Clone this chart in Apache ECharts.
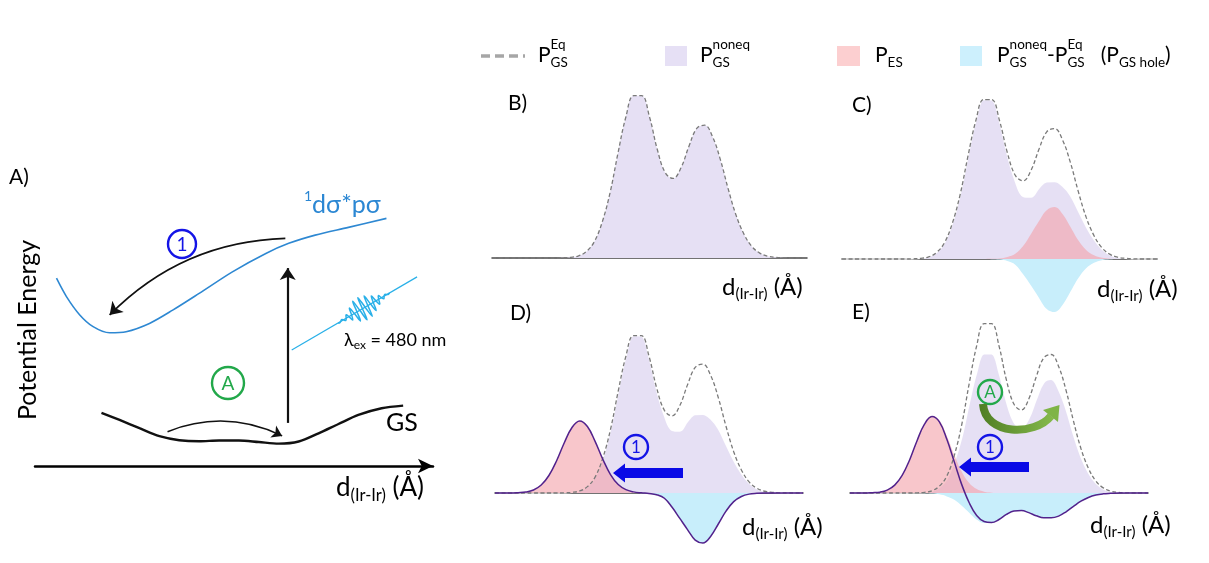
<!DOCTYPE html>
<html><head><meta charset="utf-8">
<script src="https://cdn.jsdelivr.net/npm/echarts@6/dist/echarts.min.js"></script>
<style>html,body{margin:0;padding:0;background:#fff}#c{width:1209px;height:563px}</style>
</head><body><div id="c"></div>
<script>
// ---------- DATA ----------
// shared bond-distance grid for panels B-E (arbitrary units 0..100 along each baseline)
const xs = [0,2.5,5,7.5,10,12.5,15,17.5,20,22.5,25,27.5,30,32.5,35,37.5,40,42.5,45,47.5,50,52.5,55,57.5,60,62.5,65,67.5,70,72.5,75,77.5,80,82.5,85,87.5,90,92.5,95,97.5,100];
// equilibrium ground-state distribution (dashed)
const eqGS   = [0,0,0,0,0,0,0,0,0,0.1,0.4,1.3,4,10,22,40,64,86,99,99,86,66,52,48.5,55,68,79,81,74,60,42,26,14.5,7,3,1.1,0.4,0.1,0,0,0];
// panel B
const noneqB = [0,0,0,0,0,0,0,0,0,0.1,0.4,1.3,4,10,22,40,64,86,99,99,86,66,52,48.5,55,68,79,81,74,60,42,26,14.5,7,3,1.1,0.4,0.1,0,0,0];
// panel C
const noneqC = [0,0,0,0,0,0,0,0,0,0.1,0.4,1.3,4,10,22,40,64,86,99,98.9,85.7,64.8,48.5,39,38.5,44,48,48.1,45.4,39.6,30.1,20.3,12.2,6.3,2.8,1.1,0.4,0.1,0,0,0];
const esC    = [0,0,0,0,0,0,0,0,0,0,0,0,0,0,0,0,0,0,0,0.1,0.3,1.2,3.2,8,15.5,23.4,30.3,32.3,28,20,11.6,5.6,2.3,0.7,0.2,0,0,0,0,0,0];
const holeC  = [0,0,0,0,0,0,0,0,0,0,0,0,0,0,0,0,0,0,0,-0.1,-0.3,-1.2,-3.5,-9.5,-16.5,-24,-31,-32.9,-28.6,-20.4,-11.9,-5.7,-2.3,-0.7,-0.2,0,0,0,0,0,0];
// panel D
const noneqD = [0,0,0,0,0,0,0,0,0,0.1,0.4,1.3,4,10,22,40,64,86,99,98.9,85.7,64.9,48.7,39.5,39,45,49.4,49.6,46.7,40.5,30.6,20.6,12.3,6.3,2.8,1.1,0.4,0.1,0,0,0];
const esD    = [0,0,0,0.2,0.6,1.9,5,11,20.3,31.6,41.2,45.3,41.8,32.5,21.2,11.6,5.3,2.1,0.7,0.2,0,0,0,0,0,0,0,0,0,0,0,0,0,0,0,0,0,0,0,0,0];
const holeD  = [0,0,0,0,0,0,0,0,0,0,0,0,0,0,0,0,0,0,0,-0.1,-0.3,-1.1,-3.3,-9,-16,-23,-29.6,-31.4,-27.3,-19.5,-11.4,-5.4,-2.2,-0.7,-0.2,0,0,0,0,0,0];
const diffD  = [0,0,0,0.2,0.6,1.9,5,11,20.3,31.6,41.2,45.3,41.8,32.5,21.2,11.6,5.3,2.1,0.7,0.1,-0.3,-1.1,-3.3,-9,-16,-23,-29.6,-31.4,-27.3,-19.5,-11.4,-5.4,-2.2,-0.7,-0.2,0,0,0,0,0,0];
// panel E
const noneqE = [0,0,0,0,0,0,0,0,0,0.1,0.3,1,3.2,8,18,32.5,52.5,70.5,81.5,81.5,70.5,53.5,41.5,38.2,43.5,54.7,64.5,66.5,60.5,49,34.2,21.2,11.9,5.8,2.5,0.9,0.4,0.1,0,0,0];
const esE    = [0,0,0,0.2,0.5,1.7,4.6,10.3,19.3,30.6,40.4,45,42.4,33.4,22.2,12.4,5.8,2.3,0.8,0.2,0,0,0,0,0,0,0,0,0,0,0,0,0,0,0,0,0,0,0,0,0];
const holeE  = [0,0,0,0,0,0,0,0,0,0,-0.1,-0.3,-0.8,-2,-4,-7.5,-11.5,-15.5,-17.5,-17.5,-15.5,-12.5,-10.5,-10.3,-11.5,-13.3,-14.5,-14.5,-13.5,-11,-7.8,-4.8,-2.6,-1.2,-0.5,-0.2,0,0,0,0,0];
const diffE  = [0,0,0,0.2,0.5,1.7,4.6,10.3,19.3,30.6,40.3,44.7,41.6,31.4,18.2,4.9,-5.7,-13.2,-16.7,-17.3,-15.5,-12.5,-10.5,-10.3,-11.5,-13.3,-14.5,-14.5,-13.5,-11,-7.8,-4.8,-2.6,-1.2,-0.5,-0.2,0,0,0,0,0];
// panel A potential energy curves
const esPESx = [5.4,7.9,11.25,14.6,18.75,22.9,28.75,34.6,41.25,49.6,58,63.75,70.4,78.75,88.3];
const esPESy = [70.6,63.7,56.8,52.4,50.1,50.5,53.6,58.6,64.9,73,79.9,83.7,86.8,89.7,93.1];
const gsPESx = [16.7,21.25,26.25,31.25,36.25,41.25,46.25,51.25,56.25,61.25,66.25,71.25,76.25,81.25,87.1,92.5];
const gsPESy = [20,17.3,14.2,11.2,9.7,9.3,9.6,9.6,9.0,8.4,9.2,12.3,15.8,19.2,21.7,22.7];
// panel A annotation paths (data coordinates)
const arrowOne   = [[62.9,85.6],[18.75,56.8]];
const arrowA     = [[33.3,12.9],[62.1,11.3]];
const excitation = [[63.5,16.2],[63.5,74.4]];
const photonLine = [[64.5,43.6],[96,71.1]];
const photonWave = [0,.06,0,-.1,0,.15,0,-.25,0,.4,0,-.6,0,.8,0,-.95,0,1,0,-1,0,.95,0,-.85,0,.7,0,-.55,0,.4,0,-.28,0,.18,0,-.1,0,.05,0];

// ---------- STYLE ----------
const FONT = 'Lato, "Noto Sans", "DejaVu Sans", sans-serif';
const C_LAV = '#e6e0f4', C_PINK = 'rgba(243,160,168,0.6)', C_CYAN = '#c8eefb';
const C_DASH = '#7a7a7a', C_DIFF = '#52228c';

const chart = echarts.init(document.getElementById('c'));
const pts = arr => xs.map((x, i) => [x, arr[i]]);

const panels = [
  {left:492, width:315, top:94,  scale:1.64},
  {left:842, width:315, top:98,  scale:1.61},
  {left:495, width:308, top:334, scale:1.59},
  {left:850, width:298, top:322, scale:1.71}
];
const grids = [{left:35, top:200, width:398, height:266}];
const xAxes = [{gridIndex:0, type:'value', min:0, max:100, axisLine:{show:true, symbol:['none','arrow'], symbolSize:[11,15], lineStyle:{color:'#000', width:2.5}}, axisTick:{show:false}, axisLabel:{show:false}, splitLine:{show:false}}];
const yAxes = [{gridIndex:0, type:'value', min:0, max:100, show:false}];
panels.forEach((p, i) => {
  grids.push({left:p.left, width:p.width, top:p.top, height:140*p.scale});
  xAxes.push({gridIndex:i+1, type:'value', min:0, max:100, axisLine:{show:true, onZero:true, lineStyle:{color:'#444', width:1.5}}, axisTick:{show:false}, axisLabel:{show:false}, splitLine:{show:false}});
  yAxes.push({gridIndex:i+1, type:'value', min:-40, max:100, show:false});
});

const series = [];
function area(g, arr, color, z, line) {
  series.push({type:'line', xAxisIndex:g, yAxisIndex:g, data:pts(arr), smooth:0.4, symbol:'none', z:z,
    lineStyle: line || {width:0}, areaStyle:{color:color, opacity:1}});
}
function dashed(g) {
  series.push({type:'line', xAxisIndex:g, yAxisIndex:g, data:pts(eqGS), smooth:0.4, symbol:'none', z:6,
    lineStyle:{color:C_DASH, width:1.3, type:[4,2.5]}});
}
function diff(g, arr) {
  series.push({type:'line', xAxisIndex:g, yAxisIndex:g, data:pts(arr), smooth:0.4, symbol:'none', z:7,
    lineStyle:{color:C_DIFF, width:1.5}});
}
const whiteEdge = {color:'rgba(255,255,255,0.95)', width:1.5};
// B
area(1, noneqB, C_LAV, 2); dashed(1);
// C
area(2, noneqC, C_LAV, 2, whiteEdge); area(2, esC, C_PINK, 3); area(2, holeC, C_CYAN, 3); dashed(2);
// D
area(3, noneqD, C_LAV, 2, whiteEdge); area(3, esD, C_PINK, 3); area(3, holeD, C_CYAN, 3); dashed(3); diff(3, diffD);
// E
area(4, noneqE, C_LAV, 2, whiteEdge); area(4, esE, C_PINK, 3); area(4, holeE, C_CYAN, 3); dashed(4); diff(4, diffE);
// A
series.push({type:'line', xAxisIndex:0, yAxisIndex:0, data:esPESx.map((x,i)=>[x,esPESy[i]]), smooth:0.3, symbol:'none', lineStyle:{color:'#2e88d2', width:1.6}});
series.push({type:'line', xAxisIndex:0, yAxisIndex:0, data:gsPESx.map((x,i)=>[x,gsPESy[i]]), smooth:0.3, symbol:'none', lineStyle:{color:'#111', width:2.4}});
function arrowLine(coords, curv, width, color, sym, size) {
  series.push({type:'lines', coordinateSystem:'cartesian2d', xAxisIndex:0, yAxisIndex:0, symbol:sym, symbolSize:size, z:5,
    lineStyle:{color:color, width:width, curveness:curv, opacity:1}, data:[{coords:coords}]});
}
arrowLine(arrowOne, -0.2, 1.7, '#111', ['none','arrow'], 12);
arrowLine(arrowA, 0.22, 1.5, '#111', ['none','arrow'], 10);
arrowLine(excitation, 0, 2.2, '#111', ['none','arrow'], 12);
arrowLine(photonLine, 0, 1.2, '#29b0e8', ['none','none'], 1);

chart.setOption({animation:false, backgroundColor:'#fff', grid:grids, xAxis:xAxes, yAxis:yAxes, series:series});

// ---------- ANNOTATIONS ----------
const G = [];
const ctx = document.createElement('canvas').getContext('2d');
function runs(x, y, list, color) {
  let cx = x, prevX = x;
  list.forEach(r => {
    ctx.font = r.s + 'px ' + FONT;
    const w = ctx.measureText(r.t).width;
    const px = r.stack ? prevX : cx;
    G.push({type:'text', z:100, style:{text:r.t, x:px, y:y + (r.dy || 0), fontSize:r.s, fontFamily:FONT,
      fill:r.c || color, textAlign:'left', textVerticalAlign:'middle', verticalAlign:'middle', align:'left'}});
    if (r.stack) cx = Math.max(cx, px + w); else { prevX = px; cx = px + w; }
  });
}
function sized(text, x, y, size, color, extra) {
  G.push(Object.assign({type:'text', z:100, style:{text:text, x:x, y:y, fontSize:size, fontFamily:FONT, fill:color || '#000',
    textAlign:'left', align:'left', textVerticalAlign:'middle', verticalAlign:'middle'}}, extra || {}));
}
function circled(cx, cy, r, label, color, size) {
  G.push({type:'circle', z:100, shape:{cx:cx, cy:cy, r:r}, style:{fill:'#fff', fillOpacity:0, stroke:color, lineWidth:2.4}});
  G.push({type:'text', z:101, style:{text:label, x:cx, y:cy + 1, fontSize:size, fontFamily:FONT, fill:color,
    textAlign:'center', align:'center', textVerticalAlign:'middle', verticalAlign:'middle'}});
}
function blueArrow(tail, tip, y) {
  const hl = 12, bh = 5, hh = 9.5;
  G.push({type:'polygon', z:100, shape:{points:[[tail,y-bh],[tip+hl,y-bh],[tip+hl,y-hh],[tip,y],[tip+hl,y+hh],[tip+hl,y+bh],[tail,y+bh]]},
    style:{fill:'#0a0ae6'}});
}
function dLabel(x, y, big, small) {
  runs(x, y, [{t:'d', s:big}, {t:'(Ir-Ir)', s:small, dy:big*0.28}, {t:' (Å)', s:big}], '#000');
}

// legend
G.push({type:'line', z:100, shape:{x1:481, y1:56, x2:525, y2:56}, style:{stroke:'#a6a6a6', lineWidth:3.5, lineDash:[9,5]}});
runs(538, 55, [{t:'P', s:21}, {t:'Eq', s:13.5, dy:-10}, {t:'GS', s:13.5, dy:8, stack:true}], '#000');
G.push({type:'rect', z:100, shape:{x:665, y:46, width:22, height:20}, style:{fill:'#e6e0f5'}});
runs(700, 55, [{t:'P', s:21}, {t:'noneq', s:13.5, dy:-10}, {t:'GS', s:13.5, dy:8, stack:true}], '#000');
G.push({type:'rect', z:100, shape:{x:837, y:46, width:23, height:20}, style:{fill:'#fccfd0'}});
runs(875, 55, [{t:'P', s:21}, {t:'ES', s:13.5, dy:8}], '#000');
G.push({type:'rect', z:100, shape:{x:960, y:46, width:22, height:20}, style:{fill:'#cdf0fd'}});
runs(997, 55, [{t:'P', s:21}, {t:'noneq', s:13.5, dy:-10}, {t:'GS', s:13.5, dy:8, stack:true}, {t:'-P', s:21},
  {t:'Eq', s:13.5, dy:-10}, {t:'GS', s:13.5, dy:8, stack:true}, {t:'   (P', s:21}, {t:'GS hole', s:13.5, dy:8}, {t:')', s:21}], '#000');

// panel letters
sized('A)', 9, 177, 21); sized('B)', 508, 103, 21); sized('C)', 852, 105, 21);
sized('D)', 510, 313, 21); sized('E)', 852, 312, 21);

// axis titles
dLabel(722, 287, 24, 15); dLabel(1097, 289, 24, 15); dLabel(742, 527, 24, 15); dLabel(1090, 525, 24, 15);
dLabel(336, 488, 26, 16.5);

// panel A texts
G.push({type:'text', z:100, rotation:Math.PI/2, x:28, y:330, style:{text:'Potential Energy', x:0, y:0, fontSize:25, fontFamily:FONT, fill:'#000',
  textAlign:'center', align:'center', textVerticalAlign:'middle', verticalAlign:'middle'}});
runs(304, 205, [{t:'1', s:14, dy:-9}, {t:'dσ*pσ', s:25}], '#2b87d3');
sized('GS', 386, 423, 25);
runs(344, 340, [{t:'λ', s:18}, {t:'ex', s:12, dy:5}, {t:' = 480 nm', s:18}], '#000');
circled(182, 244, 14, '1', '#1414e6', 19);
circled(228, 383, 16, 'A', '#22a84a', 19);

// photon wave packet along the excitation beam
const p0 = chart.convertToPixel({gridIndex:0}, photonLine[0]);
const p1 = chart.convertToPixel({gridIndex:0}, photonLine[1]);
const dx = p1[0]-p0[0], dy = p1[1]-p0[1], L = Math.hypot(dx, dy);
const perp = [-dy/L, dx/L];
const t0 = 0.37, t1 = 0.78, amp = 12;
const wavePts = photonWave.map((w, k) => {
  const t = t0 + (t1 - t0) * k / (photonWave.length - 1);
  return [p0[0] + dx*t + perp[0]*amp*w, p0[1] + dy*t + perp[1]*amp*w];
});
G.push({type:'polyline', z:100, shape:{points:wavePts, smooth:0.4}, style:{stroke:'#29b0e8', lineWidth:1.5, fill:null}});

// D / E process markers
circled(636, 447, 12, '1', '#1414e6', 17);
blueArrow(683, 613, 473);
circled(990, 447, 12, '1', '#1414e6', 17);
blueArrow(1029, 959, 467);
circled(990, 392, 12, 'A', '#22a84a', 17);
G.push({type:'bezierCurve', z:100, shape:{x1:983, y1:404, cpx1:985, cpy1:436, cpx2:1035, cpy2:436, x2:1051, y2:416},
  style:{stroke:new echarts.graphic.LinearGradient(0,0,1,0,[{offset:0,color:'#4f7d24'},{offset:1,color:'#86bb4c'}]), lineWidth:8, fill:null}});
G.push({type:'polygon', z:101, shape:{points:[[1059.5,405],[1058,422],[1043,410]]}, style:{fill:'#7fb446'}});

chart.setOption({graphic:G});
</script></body></html>
